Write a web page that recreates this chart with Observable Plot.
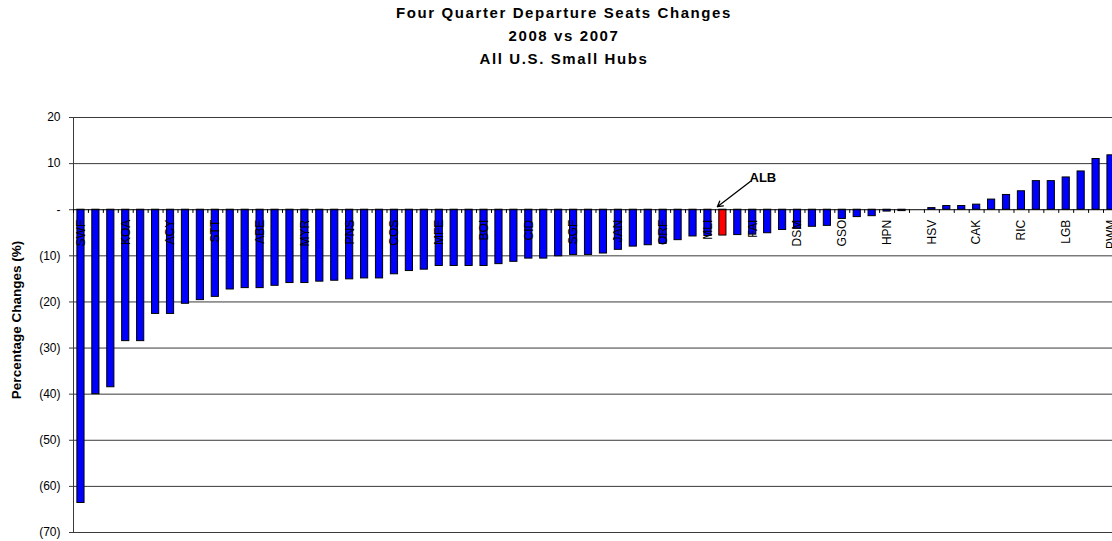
<!DOCTYPE html>
<html>
<head>
<meta charset="utf-8">
<script src="https://cdn.jsdelivr.net/npm/d3@7"></script>
<script src="https://cdn.jsdelivr.net/npm/@observablehq/plot@0.6"></script>
<style>
  html, body { margin: 0; padding: 0; background: #fff; overflow: hidden; }
  body { width: 1112px; height: 541px; font-family: "Liberation Sans", Arial, sans-serif; }
  #title { height: 70px; box-sizing: border-box; padding-top: 1px; padding-left: 16px;
           text-align: center; font-weight: bold; font-size: 15px; line-height: 23px;
           letter-spacing: 1.6px; color: #000; }
  #chart svg { display: block; }
</style>
</head>
<body>
<div id="title"></div>
<div id="chart"></div>
<script>
// ---- data ----
const titleLines = ["Four Quarter Departure Seats Changes", "2008 vs 2007", "All U.S. Small Hubs"];
const yTitle = "Percentage Changes (%)";

// airport codes (only every third one is printed on the axis; "" = not readable)
const codes = [
  "SWF","","","KOA","","","ACY","","","STT",
  "","","ABE","","","MYR","","","PNS","",
  "","COS","","","MFE","","","BOI","","",
  "CID","","","SGF","","","JAN","","","ORF",
  "","","MLI","ALB","","FAI","","","DSM","",
  "","GSO","","","HPN","","","HSV","","",
  "CAK","","","RIC","","","LGB","","","PWM"
];
// percentage change, 2008 vs 2007
const values = [
  -63.6, -40.0, -38.5, -28.5, -28.5, -22.6, -22.6, -20.4, -19.6, -18.9,
  -17.3, -17.0, -17.0, -16.5, -15.9, -15.9, -15.6, -15.4, -15.1, -14.9,
  -14.9, -14.0, -13.3, -13.0, -12.2, -12.2, -12.2, -12.2, -11.8, -11.3,
  -10.6, -10.6, -10.1,  -9.8,  -9.8,  -9.5,  -8.7,  -8.0,  -7.7,  -7.4,
   -6.6,  -5.8,  -5.7,  -5.6,  -5.5,  -5.4,  -5.1,  -4.4,  -4.1,  -3.7,
   -3.5,  -2.0,  -1.6,  -1.4,  -0.4,  -0.3,   0.0,   0.35,  0.8,   0.8,
    1.1,   2.2,   3.2,   4.0,   6.2,   6.2,   7.0,   8.3,  11.0,  11.8
];
const highlight = "ALB";
const labelEvery = 3;
const yTicks = [20, 10, 0, -10, -20, -30, -40, -50, -60, -70];
const yDomain = [-70, 20];
const xDomain = [0.5, 70.1];

// ---- build ----
document.getElementById("title").innerHTML = titleLines.map(t => `<div>${t}</div>`).join("");

const data = values.map((v, k) => ({ i: k + 1, code: codes[k], value: v }));
const labeled = data.filter((d, k) => k % labelEvery === 0);
const boundaries = d3.range(0, values.length + 1).map(k => k + 0.5);
const hl = data.find(d => d.code === highlight);
const fmt = d => d < 0 ? `(${-d})` : d === 0 ? "-" : String(d);

const chart = Plot.plot({
  width: 1112,
  height: 471,
  marginTop: 47,
  marginBottom: 9,
  marginLeft: 73,
  marginRight: 0,
  style: { fontFamily: "'Liberation Sans', Arial, sans-serif", fontSize: "12px", color: "#000", background: "#fff", overflow: "visible" },
  x: { domain: xDomain, axis: null },
  y: { domain: yDomain },
  marks: [
    Plot.ruleY(yTicks.filter(t => t !== 0), { stroke: "#3a3a3a", strokeWidth: 1 }),
    Plot.ruleX([xDomain[0]], { y1: yDomain[0], y2: yDomain[1], stroke: "#3a3a3a", strokeWidth: 1 }),
    Plot.axisY({ ticks: yTicks, tickSize: 4, tickPadding: 9, tickFormat: fmt, label: null, fontSize: 12, stroke: "#3a3a3a" }),
    Plot.rectY(data, {
      x1: d => d.i - 0.24, x2: d => d.i + 0.24, y1: 0, y2: "value",
      fill: d => d.code === highlight ? "#ff0000" : "#0000ff",
      stroke: "#000", strokeWidth: 1
    }),
    Plot.ruleY([0], { stroke: "#000", strokeWidth: 1 }),
    Plot.ruleX(boundaries, { x: d => d, y1: 0, y2: -0.8, stroke: "#000", strokeWidth: 1 }),
    Plot.text(labeled, { x: "i", y: 0, text: "code", rotate: -90, textAnchor: "end", dy: 10, fontSize: 12, fill: "#000" }),
    Plot.text([yTitle], { frameAnchor: "left", textAnchor: "middle", dx: -57, dy: -5, rotate: -90, fontWeight: "bold", fontSize: 13.5, fill: "#000" }),
    Plot.arrow([hl], { x1: d => d.i + 1.84, y1: 6.1, x2: d => d.i - 0.37, y2: 0.65, stroke: "#000", strokeWidth: 1.3, headLength: 7 }),
    Plot.text([hl], { x: d => d.i + 2.68, y: 7.0, text: "code", fontWeight: "bold", fontSize: 13, fill: "#000" })
  ]
});
document.getElementById("chart").appendChild(chart);
</script>
</body>
</html>
